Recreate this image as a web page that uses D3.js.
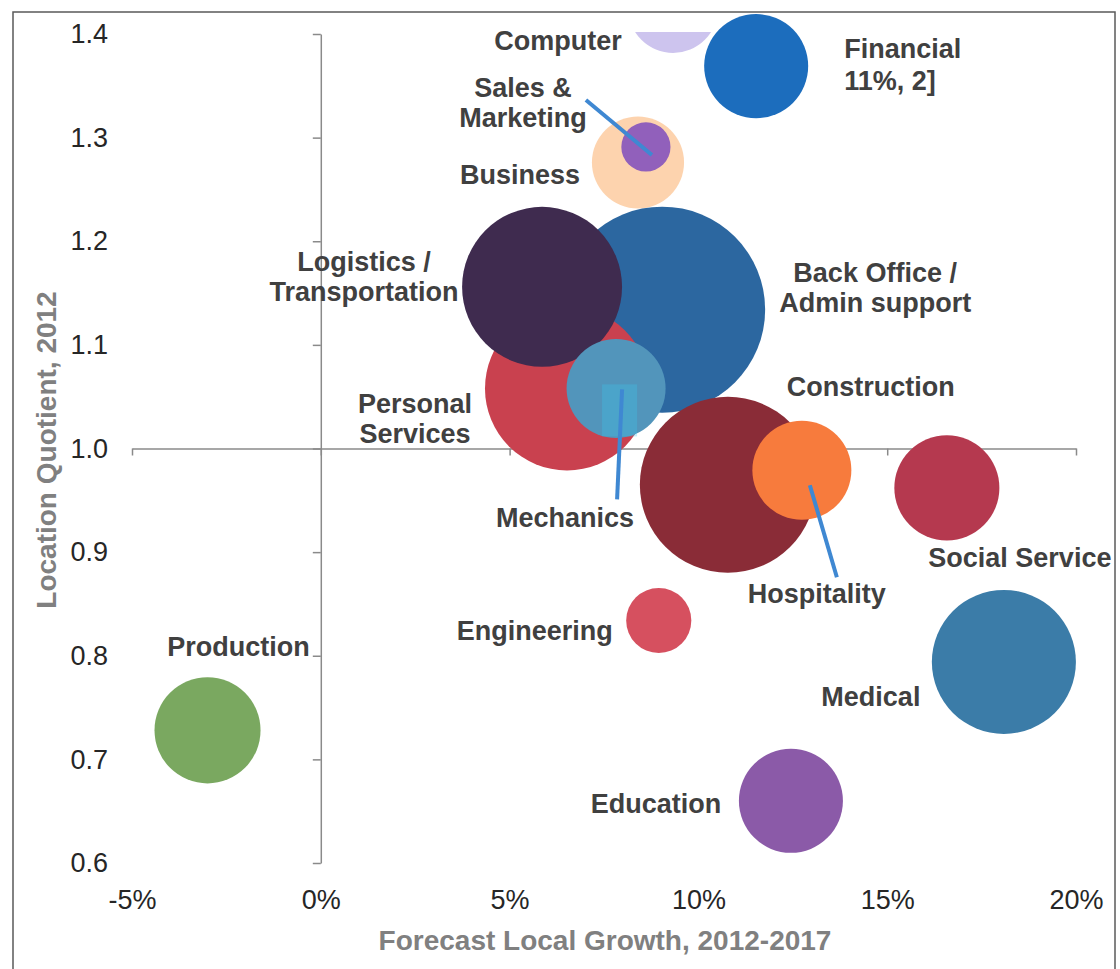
<!DOCTYPE html>
<html>
<head>
<meta charset="utf-8">
<script src="https://d3js.org/d3.v7.min.js"></script>
<style>
  body { margin: 0; background: #fff; }
  text { font-family: "Liberation Sans", Arial, sans-serif; }
</style>
</head>
<body>
<svg id="chart" width="1120" height="969"></svg>
<script>
// industries, listed back to front (draw order)
var industries = ["Computer", "Financial", "Business", "Sales & Marketing", "Back Office / Admin support",
    "Personal Services", "Logistics / Transportation", "Mechanics", "Construction", "Hospitality",
    "Social Service", "Medical", "Engineering", "Education", "Production"];
var labelLines = [["Computer"], ["Financial", "11%, 2]"], ["Business"], ["Sales &", "Marketing"],
    ["Back Office /", "Admin support"], ["Personal", "Services"], ["Logistics /", "Transportation"],
    ["Mechanics"], ["Construction"], ["Hospitality"], ["Social Service"], ["Medical"],
    ["Engineering"], ["Education"], ["Production"]];
// forecast local growth 2012-2017, %
var growth = [9.33, 11.53, 8.40, 8.61, 9.04, 6.52, 5.86, 7.82, 10.78, 12.74, 16.58, 18.09, 8.95, 12.45, -3.0];
// location quotient 2012
var locQuotient = [1.425, 1.369, 1.276, 1.291, 1.134, 1.058, 1.156, 1.058, 0.965, 0.979, 0.962, 0.794, 0.834, 0.660, 0.728];
// relative employment (bubble size)
var jobs = [19, 25.5, 20, 5.7, 100, 63.4, 60.3, 23.1, 73, 23.1, 26, 48.9, 10, 25.5, 26.5];

var xTicks = [-5, 0, 5, 10, 15, 20];
var yTicks = [0.6, 0.7, 0.8, 0.9, 1.0, 1.1, 1.2, 1.3, 1.4];

var colors = ["#cdc4ee", "#1c6dbd", "#fdd3ae", "#9160bb", "#2c67a0", "#c9414f", "#3f2b4f", "#5295bb",
    "#8a2c37", "#f77b3d", "#b5394f", "#3b7ca8", "#d6505f", "#8b5aa8", "#7aa860"];

// label placement, offsets from bubble centre (px)
var labelPos = {
    "Computer": { dx: -115, dy: 32 },
    "Financial": { dx: 88, dy: -18, anchor: "start", lh: 32 },
    "Business": { dx: -118, dy: 12 },
    "Sales & Marketing": { dx: -123, dy: -59, lead: [-60, -47, 6, 8] },
    "Back Office / Admin support": { dx: 213, dy: -37 },
    "Personal Services": { dx: -152, dy: 15 },
    "Logistics / Transportation": { dx: -178, dy: -25 },
    "Mechanics": { dx: -51, dy: 129, lead: [6, 1, 1, 111], box: [-14, -4, 35, 52] },
    "Construction": { dx: 143, dy: -98 },
    "Hospitality": { dx: 15, dy: 123, lead: [8, 15, 35, 107] },
    "Social Service": { dx: 73, dy: 70 },
    "Medical": { dx: -133, dy: 35 },
    "Engineering": { dx: -124, dy: 10 },
    "Education": { dx: -135, dy: 3 },
    "Production": { dx: 31, dy: -84 }
};

var data = industries.map(function (name, i) {
    return { name: name, lines: labelLines[i], growth: growth[i], lq: locQuotient[i], jobs: jobs[i], color: colors[i] };
});

var svg = d3.select("#chart");

var x = d3.scaleLinear().domain([-5, 20]).range([132, 1076]);
var y = d3.scaleLinear().domain([0.6, 1.4]).range([863, 34]);
var r = d3.scaleSqrt().domain([0, 100]).range([0, 103]);

// outer frame
svg.append("rect")
    .attr("x", 13).attr("y", 12)
    .attr("width", 1102).attr("height", 990)
    .attr("fill", "none").attr("stroke", "#5a5a5a").attr("stroke-width", 1.5);

// axes cross at 0% / 1.0
var yAxis = svg.append("g")
    .attr("transform", "translate(" + x(0) + ",0)")
    .call(d3.axisLeft(y).tickValues(yTicks).tickSize(8).tickSizeOuter(0).tickFormat(d3.format(".1f")));
yAxis.selectAll("text")
    .attr("x", 108 - x(0))
    .style("font-size", "27px")
    .attr("fill", "#262626");

var xAxis = svg.append("g")
    .attr("transform", "translate(0," + y(1) + ")")
    .call(d3.axisBottom(x).tickValues(xTicks).tickSize(7).tickSizeOuter(0).tickFormat(function (d) { return d + "%"; }));
xAxis.selectAll("text")
    .attr("y", y(0.6) - y(1) + 37)
    .attr("dy", "0.35em")
    .style("font-size", "27px")
    .attr("fill", "#262626");

svg.selectAll(".domain, .tick line")
    .attr("stroke", "#8a8a8a")
    .attr("stroke-width", 1.5);
svg.selectAll(".tick text").attr("font-family", null);

// axis titles
svg.append("text")
    .attr("x", 605).attr("y", 940).attr("dy", "0.35em")
    .attr("text-anchor", "middle")
    .style("font-size", "28px").style("font-weight", "bold")
    .attr("fill", "#808080")
    .text("Forecast Local Growth, 2012-2017");

svg.append("text")
    .attr("transform", "translate(46,450) rotate(-90)")
    .attr("dy", "0.35em")
    .attr("text-anchor", "middle")
    .style("font-size", "28px").style("font-weight", "bold")
    .attr("fill", "#808080")
    .text("Location Quotient, 2012");

// bubble above the axis max is cut at the plot top
svg.append("clipPath").attr("id", "plotclip")
    .append("rect")
    .attr("x", 0).attr("y", y(1.4) - 2)
    .attr("width", 1120).attr("height", 969);

svg.append("g").selectAll("circle")
    .data(data)
    .enter()
    .append("circle")
    .attr("cx", function (d) { return x(d.growth); })
    .attr("cy", function (d) { return y(d.lq); })
    .attr("r", function (d) { return r(d.jobs); })
    .attr("fill", function (d) { return d.color; })
    .attr("clip-path", function (d) { return d.lq > 1.4 ? "url(#plotclip)" : null; });

// highlight box and leader lines
data.forEach(function (d) {
    var p = labelPos[d.name];
    var cx = x(d.growth), cy = y(d.lq);
    if (p.box) {
        svg.append("rect")
            .attr("x", cx + p.box[0]).attr("y", cy + p.box[1])
            .attr("width", p.box[2]).attr("height", p.box[3])
            .attr("fill", "#3cc8f0").attr("opacity", 0.3);
    }
});
data.forEach(function (d) {
    var p = labelPos[d.name];
    var cx = x(d.growth), cy = y(d.lq);
    if (p.lead) {
        svg.append("line")
            .attr("x1", cx + p.lead[0]).attr("y1", cy + p.lead[1])
            .attr("x2", cx + p.lead[2]).attr("y2", cy + p.lead[3])
            .attr("stroke", "#3f88d2").attr("stroke-width", 4);
    }
});

// data labels
data.forEach(function (d) {
    var p = labelPos[d.name];
    var cx = x(d.growth), cy = y(d.lq);
    var t = svg.append("text")
        .attr("text-anchor", p.anchor || "middle")
        .style("font-size", "27px").style("font-weight", "bold")
        .attr("fill", "#404040");
    d.lines.forEach(function (line, i) {
        t.append("tspan")
            .attr("x", cx + p.dx)
            .attr("y", cy + p.dy + i * (p.lh || 30))
            .attr("dy", "0.35em")
            .text(line);
    });
});
</script>
</body>
</html>
